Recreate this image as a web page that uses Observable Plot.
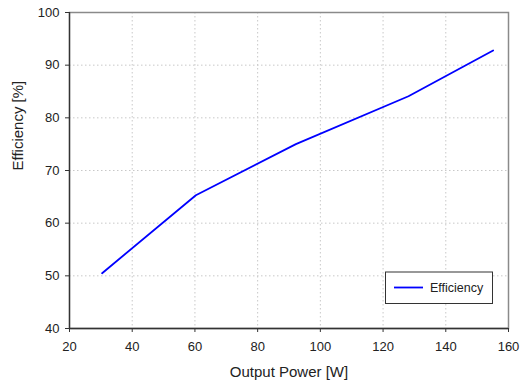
<!DOCTYPE html>
<html>
<head>
<meta charset="utf-8">
<script src="https://cdn.jsdelivr.net/npm/d3@7"></script>
<script src="https://cdn.jsdelivr.net/npm/@observablehq/plot@0.6"></script>
<style>
  html, body { margin: 0; padding: 0; background: #fff; }
  #chart svg { display: block; }
</style>
</head>
<body>
<div id="chart"></div>
<script>
// Data
const outputPower = [30.4, 60.3, 92.2, 128.1, 155.1];
const efficiency  = [50.5, 65.3, 75.0, 84.1, 92.8];
const seriesName  = "Efficiency";
const xTicks = [20, 40, 60, 80, 100, 120, 140, 160];
const yTicks = [40, 50, 60, 70, 80, 90, 100];
const xLabel = "Output Power [W]";
const yLabel = "Efficiency [%]";

const data = outputPower.map((x, i) => ({x, y: efficiency[i]}));

const font = "'Liberation Sans', Arial, sans-serif";

const chart = Plot.plot({
  width: 528,
  height: 386,
  marginLeft: 69,
  marginRight: 20,
  marginTop: 12,
  marginBottom: 58,
  style: {fontFamily: font, fontSize: "13px", color: "#222", background: "#fff"},
  x: {domain: [20, 160]},
  y: {domain: [40, 100]},
  marks: [
    Plot.gridX(xTicks.slice(1, -1), {stroke: "#c8c8c8", strokeOpacity: 1, strokeDasharray: "1.5,2.5"}),
    Plot.gridY(yTicks.slice(1, -1), {stroke: "#c8c8c8", strokeOpacity: 1, strokeDasharray: "1.5,2.5"}),
    Plot.frame({stroke: "#8a8a8a", strokeWidth: 1.5}),
    Plot.axisX({ticks: xTicks, tickSize: 4, tickPadding: 9, label: null, stroke: "#333", fontSize: 13}),
    Plot.axisY({ticks: yTicks, tickSize: 4, tickPadding: 6, label: null, stroke: "#333", fontSize: 13}),
    Plot.ruleY([40], {stroke: "#333", strokeWidth: 1.3}),
    Plot.ruleX([20], {stroke: "#333", strokeWidth: 1.3}),
    Plot.line(data, {x: "x", y: "y", stroke: "#0000ff", strokeWidth: 1.8}),
    Plot.text([xLabel], {frameAnchor: "bottom", dy: 48, fontSize: 15, fill: "#222"}),
    Plot.text([yLabel], {frameAnchor: "left", rotate: -90, dx: -51, fontSize: 15, fill: "#222"})
  ]
});

document.getElementById("chart").appendChild(chart);

// Legend box (bottom-right inside plot area)
const svg = d3.select(chart);
const g = svg.append("g").attr("font-family", font).attr("text-anchor", "start");
g.append("rect")
  .attr("x", 385.5).attr("y", 272).attr("width", 107).attr("height", 31.5)
  .attr("fill", "#fff").attr("stroke", "#333").attr("stroke-width", 1);
g.append("line")
  .attr("x1", 394).attr("x2", 423).attr("y1", 287.5).attr("y2", 287.5)
  .attr("stroke", "#0000ff").attr("stroke-width", 1.8);
g.append("text")
  .attr("x", 430).attr("y", 287.5).attr("dy", "0.35em")
  .attr("font-size", 12.5).attr("fill", "#222").attr("text-anchor", "start").text(seriesName);
</script>
</body>
</html>
